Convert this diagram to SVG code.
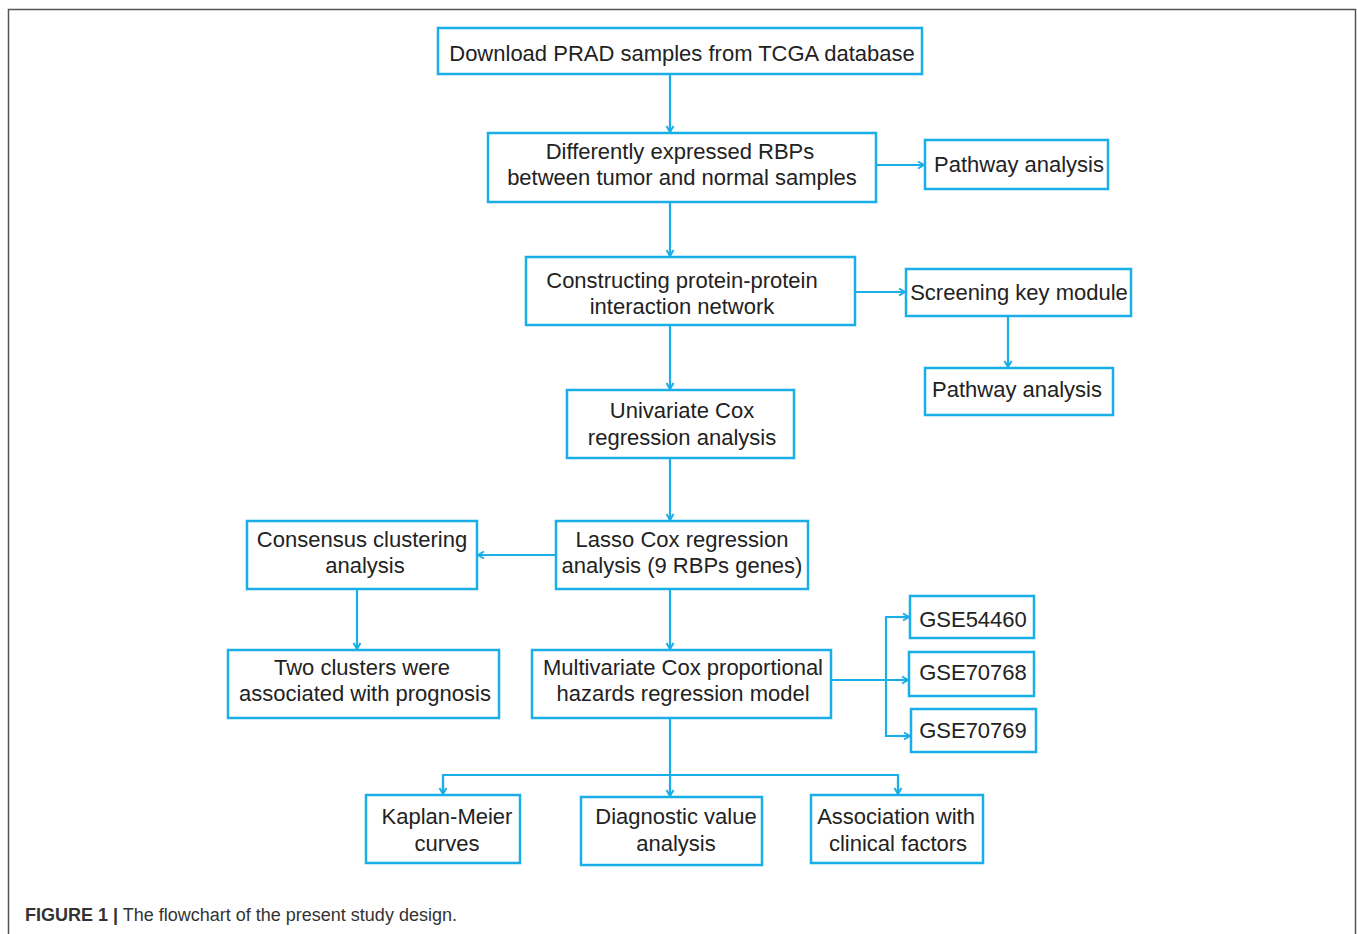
<svg xmlns="http://www.w3.org/2000/svg" width="1357" height="934" viewBox="0 0 1357 934">
<defs>
<style>
.box{fill:#fff;stroke:#1aaee8;stroke-width:2.5}
.t{font-family:"Liberation Sans",Arial,sans-serif;font-size:22px;fill:#222;text-anchor:middle}
.c{fill:none;stroke:#1aaee8;stroke-width:2.2}
.cap{font-family:"Liberation Sans",Arial,sans-serif;font-size:18px;fill:#333}
</style>
<marker id="ah" markerWidth="10" markerHeight="10" refX="8" refY="5" orient="auto" markerUnits="userSpaceOnUse">
<path d="M2,1.5 L8,5 L2,8.5" fill="none" stroke="#1aaee8" stroke-width="2"/>
</marker>
</defs>
<rect width="1357" height="934" fill="#fff"/>
<path d="M8.5,934 V9.5 H1355.5 V934" fill="none" stroke="#555" stroke-width="1.5"/>

<g id="connectors">
<path class="c" d="M670,74 V132" marker-end="url(#ah)"/>
<path class="c" d="M670,202 V256" marker-end="url(#ah)"/>
<path class="c" d="M670,325 V389" marker-end="url(#ah)"/>
<path class="c" d="M670,458 V520" marker-end="url(#ah)"/>
<path class="c" d="M670,589 V649" marker-end="url(#ah)"/>
<path class="c" d="M670,718 V796" marker-end="url(#ah)"/>
<path class="c" d="M443,794 V775 H898 V794"/>
<path class="c" d="M443,780 V794" marker-end="url(#ah)"/>
<path class="c" d="M898,780 V794" marker-end="url(#ah)"/>
<path class="c" d="M876,165 H924" marker-end="url(#ah)"/>
<path class="c" d="M855,292 H905" marker-end="url(#ah)"/>
<path class="c" d="M1008,316 V367" marker-end="url(#ah)"/>
<path class="c" d="M556,555 H478" marker-end="url(#ah)"/>
<path class="c" d="M357,589 V649" marker-end="url(#ah)"/>
<path class="c" d="M831,680 H908" marker-end="url(#ah)"/>
<path class="c" d="M909,617 H886 V736 H910"/>
<path class="c" d="M895,617 H909" marker-end="url(#ah)"/>
<path class="c" d="M895,736 H910" marker-end="url(#ah)"/>
</g>

<g id="n1"><rect class="box" x="438" y="28" width="484" height="46"/><text class="t" x="682" y="61">Download PRAD samples from TCGA database</text></g>
<g id="n2"><rect class="box" x="488" y="133" width="388" height="69"/><text class="t" x="680" y="159">Differently expressed RBPs</text><text class="t" x="682" y="185">between tumor and normal samples</text></g>
<g id="n3"><rect class="box" x="925" y="140" width="183" height="49"/><text class="t" x="1019" y="172">Pathway analysis</text></g>
<g id="n4"><rect class="box" x="526" y="257" width="329" height="68"/><text class="t" x="682" y="288">Constructing protein-protein</text><text class="t" x="682" y="314">interaction network</text></g>
<g id="n5"><rect class="box" x="906" y="269" width="225" height="47"/><text class="t" x="1019" y="300">Screening key module</text></g>
<g id="n6"><rect class="box" x="925" y="368" width="188" height="47"/><text class="t" x="1017" y="397">Pathway analysis</text></g>
<g id="n7"><rect class="box" x="567" y="390" width="227" height="68"/><text class="t" x="682" y="418">Univariate Cox</text><text class="t" x="682" y="445">regression analysis</text></g>
<g id="n8"><rect class="box" x="556" y="521" width="252" height="68"/><text class="t" x="682" y="547">Lasso Cox regression</text><text class="t" x="682" y="573">analysis (9 RBPs genes)</text></g>
<g id="n9"><rect class="box" x="247" y="521" width="230" height="68"/><text class="t" x="362" y="547">Consensus clustering</text><text class="t" x="365" y="573">analysis</text></g>
<g id="n10"><rect class="box" x="228" y="650" width="271" height="68"/><text class="t" x="362" y="675">Two clusters were</text><text class="t" x="365" y="701">associated with prognosis</text></g>
<g id="n11"><rect class="box" x="532" y="650" width="299" height="68"/><text class="t" x="683" y="675">Multivariate Cox proportional</text><text class="t" x="683" y="701">hazards regression model</text></g>
<g id="n12"><rect class="box" x="910" y="596" width="124" height="42"/><text class="t" x="973" y="627">GSE54460</text></g>
<g id="n13"><rect class="box" x="909" y="652" width="125" height="44"/><text class="t" x="973" y="680">GSE70768</text></g>
<g id="n14"><rect class="box" x="911" y="709" width="125" height="43"/><text class="t" x="973" y="738">GSE70769</text></g>
<g id="n15"><rect class="box" x="366" y="795" width="154" height="68"/><text class="t" x="447" y="824">Kaplan-Meier</text><text class="t" x="447" y="851">curves</text></g>
<g id="n16"><rect class="box" x="581" y="797" width="181" height="68"/><text class="t" x="676" y="824">Diagnostic value</text><text class="t" x="676" y="851">analysis</text></g>
<g id="n17"><rect class="box" x="811" y="795" width="172" height="68"/><text class="t" x="896" y="824">Association with</text><text class="t" x="898" y="851">clinical factors</text></g>

<text class="cap" x="25" y="921"><tspan font-weight="bold">FIGURE 1 |</tspan> The flowchart of the present study design.</text>
</svg>
